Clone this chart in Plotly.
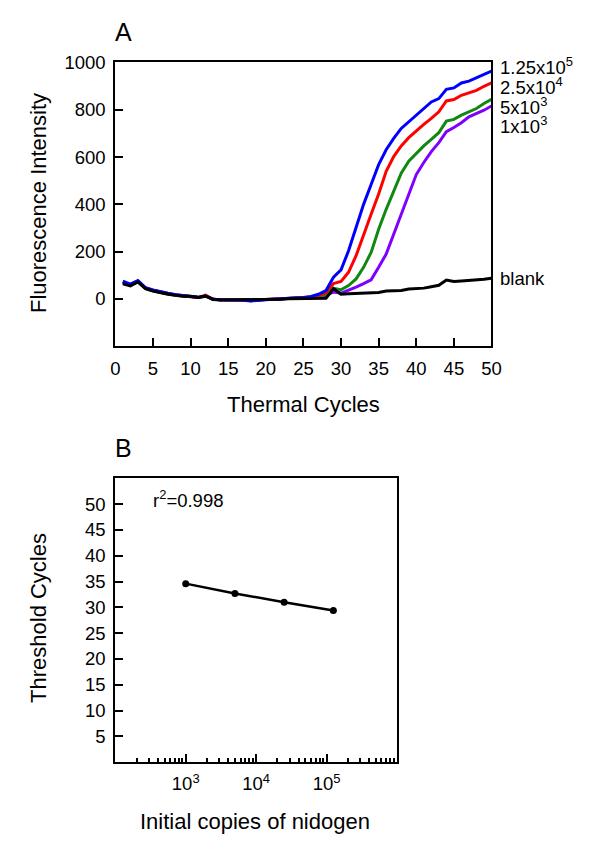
import plotly.graph_objects as go

cycles = list(range(1, 51))

blank = [64, 55, 72, 44, 34, 26, 20, 16, 12, 12, 6, 12, -2, -4, -4, -4, -4, -4, -4, -3,
         -2, -1, 1, 2, 3, 4, 3,
         3, 44, 20, 22, 23, 23, 24, 28, 34, 36, 36, 42, 44, 46, 52, 58, 80, 74, 76, 78, 81, 84, 88]
s125e5 = [75, 63, 78, 48, 38, 30, 24, 18, 14, 13, 7, 13, -1, -3, -3, -4, -5, -8, -4, -3,
          -1, 0, 3, 4, 6, 11, 20,
          36, 92, 123, 204, 302, 400, 484, 568, 631, 679, 721, 749, 777, 805, 833, 847, 886, 892, 913, 921, 934, 949, 963]
s25e4 = [70, 58, 74, 46, 36, 28, 22, 17, 13, 12, 6, 16, -1, -3, -2, -3, -4, -6, -3, -2,
         -1, 0, 2, 3, 5, 8, 14,
         28, 65, 74, 113, 183, 267, 358, 444, 540, 602, 647, 682, 711, 738, 763, 791, 837, 843, 861, 871, 882, 899, 914]
s5e3 = [70, 57, 73, 46, 35, 27, 21, 16, 13, 12, 6, 13, -1, -3, -3, -3, -4, -6, -3, -2,
        0, 1, 3, 4, 5, 7, 10,
        20, 45, 39, 57, 85, 134, 197, 295, 379, 456, 532, 582, 616, 647, 675, 703, 752, 759, 777, 791, 805, 826, 844]
s1e3 = [73, 60, 75, 47, 37, 29, 23, 18, 14, 13, 7, 13, -1, -3, -3, -3, -4, -7, -3, -2,
        -1, 0, 2, 3, 4, 6, 8,
        15, 30, 25, 36, 50, 65, 81, 134, 190, 274, 358, 442, 526, 577, 623, 661, 707, 725, 745, 770, 784, 798, 816]

copies = [1e3, 5e3, 2.5e4, 1.25e5]
threshold = [34.6, 32.7, 31.0, 29.4]

series_labels = ["1.25x10<sup>5</sup>", "2.5x10<sup>4</sup>", "5x10<sup>3</sup>", "1x10<sup>3</sup>", "blank"]
x_ticks_a = list(range(0, 51, 5))
y_ticks_a = list(range(0, 1001, 200))
y_ticks_b = list(range(5, 51, 5))
x_ticks_b = [1e3, 1e4, 1e5]
x_ticktext_b = ["10<sup>3</sup>", "10<sup>4</sup>", "10<sup>5</sup>"]
x_minor_b = [m * 10 ** d for d in range(2, 6) for m in range(2, 10)]

FONT = "Liberation Sans, Arial, sans-serif"
W, H = 584, 834
# mapping from target picture pixels to figure pixels (measured page offset/scale)
AX, KX = 10.2, 0.979
AY, KY = 18.6, 0.987


def px(x):
    return ((x - AX) / KX) / W


def py(y):
    return 1 - ((y - AY) / KY) / H


fig = go.Figure()
for ys, col in [(s1e3, "#8000ff"), (s5e3, "#118811"), (s25e4, "#ff0000"), (s125e5, "#0000ff"), (blank, "#000000")]:
    fig.add_trace(go.Scatter(x=cycles, y=ys, mode="lines", line=dict(color=col, width=3),
                             xaxis="x", yaxis="y", showlegend=False))

fig.add_trace(go.Scatter(x=copies, y=threshold, mode="lines+markers",
                         line=dict(color="black", width=2.5),
                         marker=dict(color="black", size=7),
                         xaxis="x2", yaxis="y2", showlegend=False))

axis_common = dict(showline=True, linecolor="black", linewidth=2, mirror=True,
                   ticks="inside", ticklen=8, tickwidth=1.5, tickcolor="black",
                   showgrid=False, zeroline=False, ticklabelstandoff=4,
                   tickfont=dict(family=FONT, size=18.5, color="black"))

fig.update_layout(
    width=W, height=H, margin=dict(l=0, r=0, t=0, b=0),
    paper_bgcolor="white", plot_bgcolor="white",
    xaxis=dict(domain=[px(113), px(491)], anchor="y", range=[0, 50],
               tickmode="array", tickvals=x_ticks_a, **axis_common),
    yaxis=dict(domain=[py(346), py(62)], anchor="x", range=[-200, 1000],
               tickmode="array", tickvals=y_ticks_a, **axis_common),
    xaxis2=dict(domain=[px(113), px(396)], anchor="y2", type="log", range=[2, 6],
                tickmode="array", tickvals=x_ticks_b, ticktext=x_ticktext_b,
                minor=dict(tickmode="array", tickvals=x_minor_b, ticks="inside",
                           ticklen=4, tickwidth=1.5, tickcolor="black"),
                **axis_common),
    yaxis2=dict(domain=[py(762), py(478)], anchor="x2", range=[0, 55],
                tickmode="array", tickvals=y_ticks_b, **axis_common),
)


def ann(text, x, y, size, xanchor="center", yanchor="middle", angle=0):
    fig.add_annotation(text=text, x=px(x), y=py(y), xref="paper", yref="paper",
                       xanchor=xanchor, yanchor=yanchor, showarrow=False, textangle=angle,
                       font=dict(family=FONT, size=size, color="black"))


ann("A", 121, 32, 25)
ann("B", 121, 448, 25)
ann("Fluorescence Intensity", 36, 203, 22, angle=-90)
ann("Thermal Cycles", 302, 404, 22)
ann("Threshold Cycles", 36, 618, 22, angle=-90)
ann("Initial copies of nidogen", 253, 821, 22)
ann("r<sup>2</sup>=0.998", 149, 499, 18.5, xanchor="left")

label_y = [66, 86, 106, 125, 278]
for t, y in zip(series_labels, label_y):
    ann(t, 498, y, 18.5, xanchor="left")

fig.write_html("out.html")
